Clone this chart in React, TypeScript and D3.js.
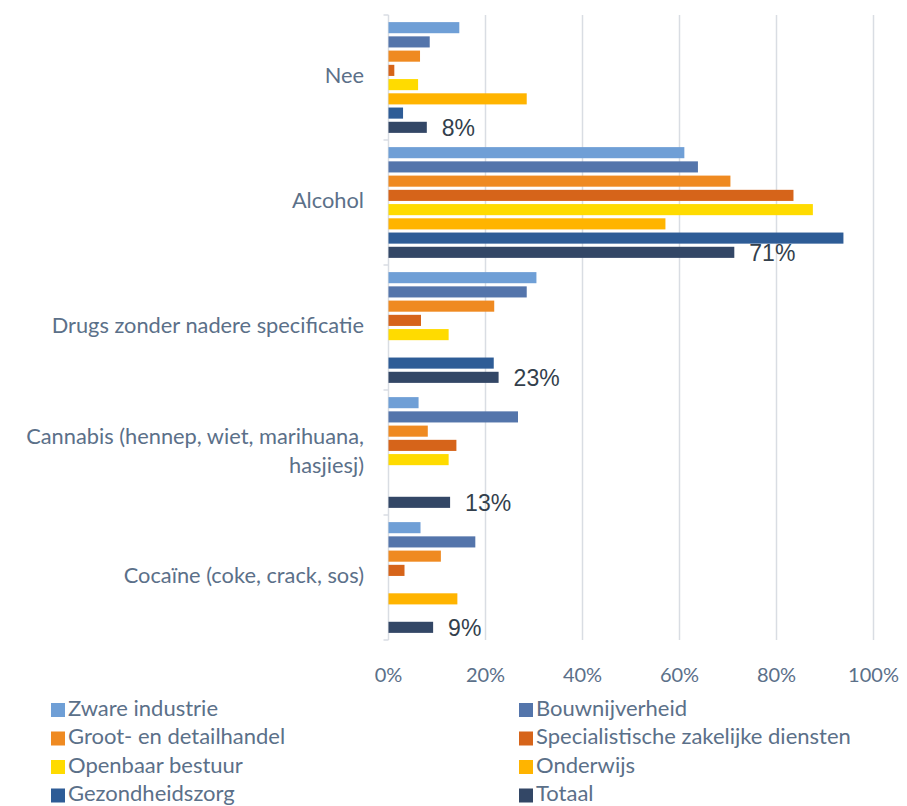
import React from "react";
import * as d3 from "d3";

const categories = [
  ["Nee"],
  ["Alcohol"],
  ["Drugs zonder nadere specificatie"],
  ["Cannabis (hennep, wiet, marihuana,", "hasjiesj)"],
  ["Cocaïne (coke, crack, sos)"],
];
const seriesNames = [
  "Zware industrie",
  "Bouwnijverheid",
  "Groot- en detailhandel",
  "Specialistische zakelijke diensten",
  "Openbaar bestuur",
  "Onderwijs",
  "Gezondheidszorg",
  "Totaal",
];
const seriesColors = ["#6f9fd6", "#5475ab", "#ef8a21", "#d6641a", "#ffdb00", "#ffb400", "#2e5c96", "#334766"];
// values per series, one per category (Nee, Alcohol, Drugs, Cannabis, Cocaine)
const zware = [14.6, 61.0, 30.5, 6.2, 6.6];
const bouw = [8.5, 63.8, 28.5, 26.7, 17.9];
const groot = [6.5, 70.5, 21.8, 8.1, 10.8];
const spec = [1.2, 83.5, 6.7, 14.0, 3.3];
const openbaar = [6.1, 87.5, 12.4, 12.4, 0];
const onderwijs = [28.5, 57.1, 0, 0, 14.2];
const gezond = [3.0, 93.8, 21.7, 0, 0];
const totaal = [7.9, 71.3, 22.7, 12.7, 9.2];
const totaalLabels = ["8%", "71%", "23%", "13%", "9%"];
const xTicks = [0, 20, 40, 60, 80, 100];

const seriesValues = [zware, bouw, groot, spec, openbaar, onderwijs, gezond, totaal];

export default function App() {
  const W = 907, H = 806;
  const x = d3.scaleLinear().domain([0, 100]).range([388.5, 873.5]);
  const catIdx = categories.map((_, i) => i);
  const y = d3.scaleBand<number>().domain(catIdx).range([15, 640]).paddingInner(0).paddingOuter(0);
  const yi = d3.scaleBand<number>().domain(seriesNames.map((_, i) => i)).range([0, y.bandwidth()]).paddingInner(0.22).paddingOuter(0.5);
  const font = "Lato, 'Liberation Sans', Arial, sans-serif";
  const textColor = "#5b7089";
  const grid = "#d9dde3";

  return (
    <svg width={W} height={H} style={{ position: "absolute", left: 0, top: 0, background: "#fff" }} fontFamily={font}>
      {xTicks.map((t) => (
        <line key={"g" + t} x1={x(t)} x2={x(t)} y1={15} y2={640} stroke={grid} strokeWidth={1.5} />
      ))}
      {[...catIdx, catIdx.length].map((i) => {
        const yy = i < catIdx.length ? (y(i) as number) : 640;
        return <line key={"t" + i} x1={x(0) - 5} x2={x(0)} y1={yy} y2={yy} stroke={grid} strokeWidth={1.5} />;
      })}
      {seriesValues.map((vals, s) =>
        vals.map((v, c) =>
          v > 0 ? (
            <rect
              key={s + "-" + c}
              x={x(0)}
              y={(y(c) as number) + (yi(s) as number)}
              width={x(v) - x(0)}
              height={yi.bandwidth()}
              fill={seriesColors[s]}
            />
          ) : null
        )
      )}
      {totaal.map((v, c) => (
        <text
          key={"l" + c}
          x={x(v) + 15}
          y={(y(c) as number) + (yi(7) as number) + yi.bandwidth() / 2 + 3}
          dominantBaseline="middle"
          fontSize={23}
          fontFamily="'Liberation Sans', Arial, sans-serif"
          fill="#333f4c"
        >
          {totaalLabels[c]}
        </text>
      ))}
      {categories.map((lines, c) => {
        const cy = (y(c) as number) + y.bandwidth() / 2;
        const lh = 29;
        return lines.map((ln, k) => (
          <text
            key={"c" + c + k}
            x={364}
            y={cy + (k - (lines.length - 1) / 2) * lh}
            textAnchor="end"
            dominantBaseline="middle"
            fontSize={21.8}
            fill={textColor}
          >
            {ln}
          </text>
        ));
      })}
      {xTicks.map((t) => (
        <text key={"x" + t} x={x(t)} y={677} textAnchor="middle" dominantBaseline="middle" fontSize={20} fill={textColor}>
          {t + "%"}
        </text>
      ))}
      {seriesNames.map((n, i) => {
        const col = i % 2;
        const row = Math.floor(i / 2);
        const lx = col === 0 ? 51 : 519;
        const ly = 710 + row * 28.5;
        return (
          <g key={"lg" + i}>
            <rect x={lx} y={ly - 7} width={14} height={14} fill={seriesColors[i]} />
            <text x={lx + 17} y={ly} dominantBaseline="middle" fontSize={22} fill={textColor}>
              {n}
            </text>
          </g>
        );
      })}
    </svg>
  );
}
